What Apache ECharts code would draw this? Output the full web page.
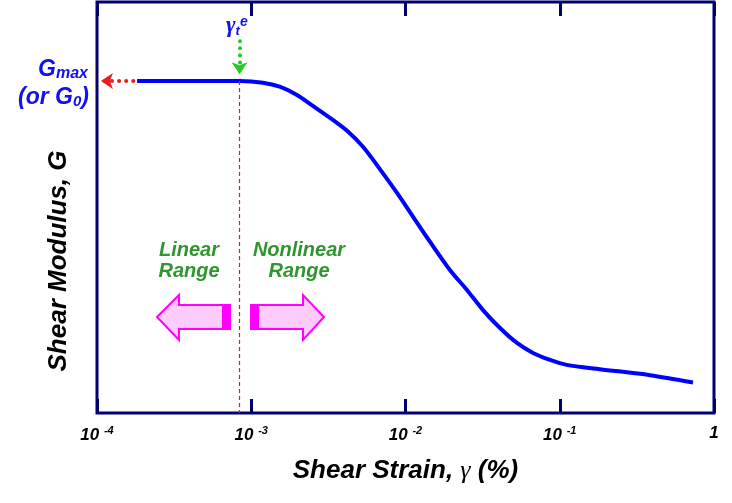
<!DOCTYPE html>
<html>
<head>
<meta charset="utf-8">
<script src="https://cdn.jsdelivr.net/npm/echarts@6/dist/echarts.min.js"></script>
<style>
  html, body { margin: 0; padding: 0; background: #fff; }
  #main { width: 732px; height: 503px; }
</style>
</head>
<body>
<div id="main"></div>
<script>
// shear strain (%) and normalised shear modulus G/Gmax
const strain = [1.82e-4, 4.66e-4, 8.45e-4, 1.19e-3, 1.53e-3, 1.98e-3, 2.51e-3, 3.24e-3, 4.18e-3, 5.30e-3,
  6.84e-3, 8.81e-3, 0.0112, 0.0144, 0.0194, 0.0251, 0.0318, 0.0410, 0.0528, 0.0671,
  0.0865, 0.111, 0.182, 0.385, 0.731]
const modulus = [1.0, 1.0, 1.0, 0.995, 0.983, 0.958, 0.925, 0.889, 0.850, 0.802,
  0.734, 0.663, 0.591, 0.516, 0.431, 0.370, 0.310, 0.256, 0.211, 0.181,
  0.160, 0.145, 0.132, 0.114, 0.092]
const xRange = [1e-4, 1]
const yRange = [0, 1.238]
const thresholdStrain = 8.4e-4 // gamma_t^e
const gmaxArrow = [1.72e-4, 1.06e-4] // red dotted arrow, from -> to
const thresholdArrow = [1.12, 1.02] // green dotted arrow, from -> to (G)

const FONT = 'Liberation Sans, Arial, sans-serif'
const SERIF = 'Liberation Serif, Times New Roman, serif'
const NAVY = '#00006e'
const BLUE = '#1010f0'
const GREEN = '#2f962f'

const chart = echarts.init(document.getElementById('main'))

function tickLabel (v) {
  const e = Math.round(Math.log10(v))
  if (e === 0) return '{n|1}'
  return '{n|10 }{s|' + e + '}'
}

const tickStyle = { show: true, inside: true, length: 14, lineStyle: { color: NAVY, width: 3 } }

const option = {
  animation: false,
  backgroundColor: '#fff',
  grid: {
    left: 97,
    right: 18,
    top: 2,
    bottom: 90,
    show: true,
    borderColor: NAVY,
    borderWidth: 3
  },
  xAxis: [
    {
      type: 'log',
      logBase: 10,
      min: xRange[0],
      max: xRange[1],
      position: 'bottom',
      axisLine: { show: false },
      axisTick: tickStyle,
      splitLine: { show: false },
      axisLabel: {
        margin: 12,
        formatter: tickLabel,
        rich: {
          n: { fontFamily: FONT, fontSize: 17, fontWeight: 'bold', fontStyle: 'italic', color: '#000' },
          s: { fontFamily: FONT, fontSize: 11, fontWeight: 'bold', fontStyle: 'italic', color: '#000', padding: [0, 0, 9, 0] }
        }
      },
      name: 'Shear Strain, {g|γ} (%)',
      nameLocation: 'middle',
      nameGap: 45,
      nameTextStyle: {
        fontFamily: FONT,
        fontSize: 26,
        fontWeight: 'bold',
        fontStyle: 'italic',
        color: '#000',
        rich: {
          g: { fontFamily: SERIF, fontSize: 26, fontStyle: 'italic', fontWeight: 'normal', color: '#000' }
        }
      }
    },
    {
      type: 'log',
      logBase: 10,
      min: xRange[0],
      max: xRange[1],
      position: 'top',
      axisLine: { show: false },
      axisTick: tickStyle,
      axisLabel: { show: false },
      splitLine: { show: false }
    }
  ],
  yAxis: {
    type: 'value',
    min: yRange[0],
    max: yRange[1],
    axisLine: { show: false },
    axisTick: { show: false },
    axisLabel: { show: false },
    splitLine: { show: false }
  },
  series: [
    {
      type: 'line',
      xAxisIndex: 0,
      data: strain.map((s, i) => [s, modulus[i]]),
      smooth: 0.3,
      showSymbol: false,
      lineStyle: { color: '#0000ff', width: 4 },
      markLine: {
        silent: true,
        label: { show: false },
        emphasis: { disabled: true },
        data: [
          [
            { coord: [thresholdStrain, modulus[0]], symbol: 'none', lineStyle: { color: '#d42020', width: 1.2, type: [4, 3] } },
            { coord: [thresholdStrain, 0], symbol: 'none' }
          ],
          [
            { coord: [thresholdStrain, thresholdArrow[0]], symbol: 'none', lineStyle: { color: '#22cc22', width: 4, type: [0.1, 7], cap: 'round' } },
            { coord: [thresholdStrain, thresholdArrow[1]], symbol: 'arrow', symbolSize: [12, 12] }
          ],
          [
            { coord: [gmaxArrow[0], modulus[0]], symbol: 'none', lineStyle: { color: '#ee1c1c', width: 4, type: [0.1, 7], cap: 'round' } },
            { coord: [gmaxArrow[1], modulus[0]], symbol: 'arrow', symbolSize: [12, 12] }
          ]
        ]
      }
    }
  ],
  graphic: [
    // y axis title
    {
      type: 'text', x: 59, y: 261, rotation: Math.PI / 2,
      style: { text: 'Shear Modulus, G', align: 'center', verticalAlign: 'middle', fontFamily: FONT, fontSize: 26, fontWeight: 'bold', fontStyle: 'italic', fill: '#000' }
    },
    // G_max (or G_0)
    {
      type: 'text', right: 732 - 88, top: 58,
      style: {
        text: '{G|G}{sub|max}',
        rich: {
          G: { fontFamily: FONT, fontSize: 23, fontWeight: 'bold', fontStyle: 'italic', fill: BLUE },
          sub: { fontFamily: FONT, fontSize: 16, fontWeight: 'bold', fontStyle: 'italic', fill: BLUE, padding: [9, 0, 0, 0] }
        }
      }
    },
    {
      type: 'text', right: 732 - 89, top: 86,
      style: {
        text: '{G|(or G}{sub|0}{G|)}',
        rich: {
          G: { fontFamily: FONT, fontSize: 23, fontWeight: 'bold', fontStyle: 'italic', fill: BLUE },
          sub: { fontFamily: FONT, fontSize: 15, fontWeight: 'bold', fontStyle: 'italic', fill: BLUE, padding: [9, 0, 0, 0] }
        }
      }
    },
    // gamma_t^e
    {
      type: 'text', left: 226, top: 15,
      style: {
        text: '{g|γ}{t|t}{e|e}',
        rich: {
          g: { fontFamily: SERIF, fontSize: 23, fontStyle: 'italic', fontWeight: 'bold', fill: BLUE },
          t: { fontFamily: FONT, fontSize: 13, fontWeight: 'bold', fontStyle: 'italic', fill: BLUE, padding: [10, 0, 0, 0] },
          e: { fontFamily: FONT, fontSize: 14, fontWeight: 'bold', fontStyle: 'italic', fill: BLUE, padding: [0, 0, 9, 0] }
        }
      }
    },
    // range labels
    {
      type: 'text', x: 189, y: 240,
      style: { text: 'Linear\nRange', align: 'center', verticalAlign: 'top', fontFamily: FONT, fontSize: 20, fontWeight: 'bold', fontStyle: 'italic', fill: GREEN, lineHeight: 21 }
    },
    {
      type: 'text', x: 299, y: 240,
      style: { text: 'Nonlinear\nRange', align: 'center', verticalAlign: 'top', fontFamily: FONT, fontSize: 20, fontWeight: 'bold', fontStyle: 'italic', fill: GREEN, lineHeight: 21 }
    },
    // range arrows
    {
      type: 'polygon',
      shape: { points: [[157, 317], [179, 295], [179, 305], [230, 305], [230, 329], [179, 329], [179, 340]] },
      style: { fill: '#ffccff', stroke: '#ff00ff', lineWidth: 2 }
    },
    { type: 'rect', shape: { x: 222, y: 305, width: 8, height: 24 }, style: { fill: '#ff00ff' } },
    {
      type: 'polygon',
      shape: { points: [[251, 305], [303, 305], [303, 295], [324, 317], [303, 340], [303, 329], [251, 329]] },
      style: { fill: '#ffccff', stroke: '#ff00ff', lineWidth: 2 }
    },
    { type: 'rect', shape: { x: 251, y: 305, width: 8, height: 24 }, style: { fill: '#ff00ff' } }
  ]
}

chart.setOption(option)
</script>
</body>
</html>
